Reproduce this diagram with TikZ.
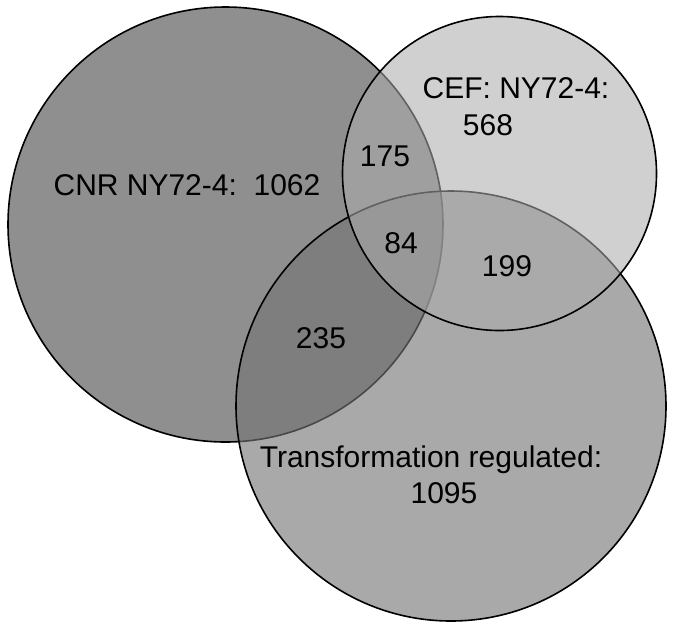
\documentclass[tikz,border=0pt]{standalone}
\usepackage{fontspec}
\setmainfont{Liberation Sans}
\definecolor{cL}{gray}{0.561}
\definecolor{cB}{gray}{0.459}
\definecolor{cT}{gray}{0.675}
\tikzset{
  venn/.style={circle, draw=black, line width=1.6pt, inner sep=0pt},
  lbl/.style={anchor=base, inner sep=0pt, font=\fontsize{30}{36}\selectfont, text=black}
}
\begin{document}
\begin{tikzpicture}[x=1pt,y=-1pt]
\useasboundingbox (0,0) rectangle (685,630);
\node[venn, fill=cL, minimum size=435pt] (cnr) at (225.5,224.5) {};
\node[venn, fill=cB, fill opacity=0.625, minimum size=430pt] (trans) at (451,406) {};
\node[venn, fill=cT, fill opacity=0.57, minimum size=314pt] (cef) at (499.5,173.5) {};
\node[lbl] (tcnr) at (187,195) {CNR NY72-4:\ \ 1062};
\node[lbl] (tcef) at (516,98) {CEF: NY72-4:};
\node[lbl] (n568) at (488,135) {568};
\node[lbl] (n175) at (385,166) {175};
\node[lbl] (n84) at (401,253) {84};
\node[lbl] (n199) at (507,276) {199};
\node[lbl] (n235) at (321,348) {235};
\node[lbl] (ttr) at (431,467) {Transformation regulated:};
\node[lbl] (n1095) at (444,503) {1095};
\end{tikzpicture}
\end{document}
